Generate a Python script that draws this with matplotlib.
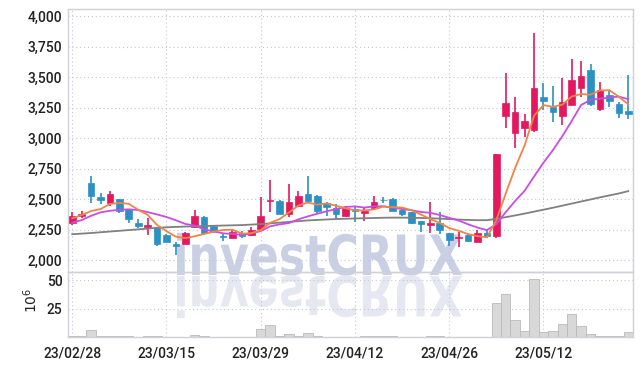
import numpy as np
import matplotlib
matplotlib.use("Agg")
import matplotlib.pyplot as plt
from matplotlib.textpath import TextPath
from matplotlib.patches import PathPatch
from matplotlib.font_manager import FontProperties
from matplotlib.transforms import Affine2D
from matplotlib.ticker import FuncFormatter

# ---------------- data ----------------
opens = [2300, 2360, 2630, 2515, 2470, 2500, 2415, 2305, 2268, 2270,
         2205, 2130, 2135, 2275, 2350, 2280, 2197, 2183, 2218, 2205,
         2255, 2482, 2485, 2377, 2445, 2540, 2525, 2468, 2424, 2362,
         2420, 2388, 2430, 2495, 2500, 2410, 2390, 2320, 2290, 2306,
         2220, 2178, 2205, 2150, 2222, 2195, 3183, 3045, 3080, 3066,
         3334, 3255, 3183, 3270, 3412, 3557, 3237, 3352, 3280, 3224]
highs = [2390, 2400, 2690, 2550, 2570, 2500, 2420, 2340, 2345, 2275,
         2215, 2150, 2230, 2410, 2360, 2285, 2225, 2245, 2240, 2268,
         2520, 2655, 2490, 2625, 2570, 2690, 2535, 2475, 2460, 2440,
         2438, 2423, 2525, 2515, 2505, 2415, 2392, 2322, 2473, 2395,
         2222, 2232, 2210, 2245, 2245, 2870, 3530, 3335, 3195, 3860,
         3455, 3426, 3490, 3645, 3630, 3607, 3462, 3393, 3295, 3514]
lows = [2285, 2345, 2465, 2460, 2445, 2385, 2305, 2265, 2205, 2112,
        2145, 2045, 2130, 2265, 2220, 2225, 2160, 2180, 2178, 2200,
        2245, 2390, 2378, 2355, 2437, 2470, 2385, 2360, 2333, 2355,
        2315, 2322, 2410, 2465, 2400, 2360, 2298, 2232, 2220, 2213,
        2115, 2104, 2155, 2145, 2185, 2178, 3080, 2915, 3010, 3050,
        3228, 3132, 3107, 3268, 3340, 3263, 3225, 3257, 3165, 3160]
closes = [2360, 2380, 2525, 2490, 2545, 2405, 2340, 2280, 2285, 2130,
          2150, 2112, 2225, 2360, 2225, 2240, 2188, 2232, 2198, 2245,
          2360, 2495, 2380, 2475, 2525, 2485, 2405, 2432, 2377, 2423,
          2400, 2404, 2473, 2490, 2405, 2378, 2300, 2293, 2306, 2245,
          2168, 2188, 2160, 2220, 2197, 2868, 3284, 3210, 3140, 3408,
          3306, 3216, 3298, 3475, 3508, 3280, 3390, 3306, 3208, 3198]
volumes = [0.6, 1.3, 6.5, 1.3, 1.3, 0.6, 0.6, 0.3, 0.6, 0.6,
           0.2, 0.2, 0.3, 1.4, 0.7, 0.2, 0.2, 0.2, 0.2, 0.3,
           7.4, 10.2, 0.8, 2.3, 1.3, 3.1, 0.7, 0.3, 0.3, 0.2,
           0.2, 0.6, 0.6, 0.6, 0.6, 0.2, 0.2, 0.3, 1.2, 0.7,
           0.3, 0.3, 0.2, 0.2, 0.3, 29.8, 37.7, 15.3, 5.0, 51.5,
           4.1, 5.0, 11.2, 20.6, 9.4, 2.4, 1.2, 0.7, 0.7, 4.1]
# moving-average values before enough in-window history exists
ma5_head = [2342, 2369, 2402, 2418]
ma10_head = [2306, 2328, 2363, 2391, 2404, 2412, 2416, 2410, 2393]
ma60 = [2212, 2217, 2222, 2228, 2234, 2240, 2246, 2252, 2258, 2264,
        2269, 2272, 2275, 2277, 2279, 2281, 2283, 2285, 2287, 2291,
        2295, 2301, 2307, 2313, 2319, 2325, 2329, 2333, 2336, 2339,
        2341, 2343, 2345, 2347, 2348, 2348, 2347, 2345, 2343, 2340,
        2336, 2332, 2329, 2327, 2327, 2338, 2352, 2366, 2381, 2397,
        2413, 2429, 2446, 2463, 2480, 2497, 2514, 2530, 2546, 2565]
tick_pos = [0, 10, 20, 30, 40, 50]
tick_labels = ["23/02/28", "23/03/15", "23/03/29", "23/04/12", "23/04/26", "23/05/12"]
price_ticks = [2000, 2250, 2500, 2750, 3000, 3250, 3500, 3750, 4000]
vol_ticks = [25, 50]

# ---------------- derived ----------------
o = np.array(opens, float); h = np.array(highs, float)
l = np.array(lows, float); c = np.array(closes, float)
n = len(c)
x = np.arange(n)
ma5 = np.array(ma5_head + [c[i - 4:i + 1].mean() for i in range(4, n)])
ma10 = np.array(ma10_head + [c[i - 9:i + 1].mean() for i in range(9, n)])

UP = "#e3195f"
DOWN = "#2b91c4"
GRID = "#c3c6d8"
SPINE = "#cfd0da"
TXT = "#222222"

plt.rcParams['font.family'] = ['Roboto', 'DejaVu Sans']
plt.rcParams['font.weight'] = 'medium'

W, H = 642, 366
fig = plt.figure(figsize=(W / 100, H / 100), dpi=100)
fig.patch.set_facecolor("white")

L, R = 68 / W, 632.5 / W
ax = fig.add_axes([L, 1 - 272.3 / H, R - L, (272.3 - 9.3) / H])
axv = fig.add_axes([L, 1 - 337 / H, R - L, (337 - 272.3) / H], sharex=ax)
for a in (ax, axv):
    a.set_facecolor("none")
    for s in a.spines.values():
        s.set_color(SPINE)
        s.set_linewidth(1.0)
    a.grid(True, color=GRID, linestyle=(0, (1, 2.5)), linewidth=0.8)
    a.set_axisbelow(True)
    a.tick_params(length=0, colors=TXT, labelsize=10)

# watermark (behind axes)
fp = FontProperties(family="DejaVu Sans", weight="bold")
tp = TextPath((0, 0), "investCRUX", size=1, prop=fp)
ext = tp.get_extents()
capref = TextPath((0, 0), "C", size=1, prop=fp).get_extents()
sx = 285 / ext.width
sy = 42 / capref.height
base = H - 275
tr_up = Affine2D().translate(-ext.x0, 0).scale(sx / W, sy / H).translate(177 / W, base / H)
tr_dn = Affine2D().translate(-ext.x0, 0).scale(sx / W, -sy / H).translate(177 / W, (base - 1) / H)
fig.add_artist(PathPatch(tr_up.transform_path(tp), facecolor="#c9d0e4", edgecolor="none",
                         transform=fig.transFigure, zorder=-1))
fig.add_artist(PathPatch(tr_dn.transform_path(tp), facecolor="#e6e8f1", edgecolor="none",
                         transform=fig.transFigure, zorder=-1))

# candles
up = c >= o
cols = np.where(up, UP, DOWN)
ax.vlines(x, l, h, colors=cols, linewidth=1.2, zorder=2)
body_lo = np.minimum(o, c)
body_h = np.maximum(np.abs(c - o), 6)
ax.bar(x, body_h, bottom=body_lo, width=0.7, color=cols, edgecolor=cols, linewidth=0.5, zorder=3)

# moving averages
ax.plot(x, ma60, color="#808080", linewidth=1.3, zorder=4)
ax.plot(x, ma10, color="#c84de6", linewidth=1.3, zorder=4)
ax.plot(x, ma5, color="#ef8447", linewidth=1.3, zorder=4)

ax.set_ylim(1900, 4055)
ax.set_yticks(price_ticks)
ax.yaxis.set_major_formatter(FuncFormatter(lambda v, p: f"{v:,.0f}"))
ax.set_xlim(-0.45, n - 1 + 0.45)
ax.set_xticks(tick_pos)
ax.tick_params(axis="x", labelbottom=False)
ax.tick_params(axis="y", pad=4)

# volume
axv.bar(x, volumes, width=1.0, color="#d8d8d8", edgecolor="#b9b9b9", linewidth=0.6, zorder=2)
axv.set_ylim(0, 57)
axv.set_yticks(vol_ticks)
axv.set_xticks(tick_pos)
axv.set_xticklabels(tick_labels)
axv.tick_params(axis="x", pad=7)
axv.tick_params(axis="y", pad=4)
fig.text(31 / W, 1 - 300 / H, r"$10^6$", rotation=90, ha="center", va="center",
         fontsize=10, color=TXT, family="DejaVu Serif", fontweight="normal")

fig.savefig("out.png", dpi=100)
